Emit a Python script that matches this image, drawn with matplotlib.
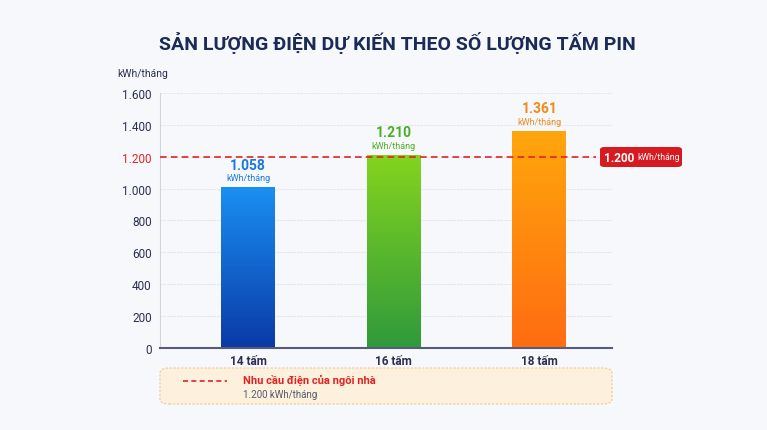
import numpy as np
import matplotlib.pyplot as plt
from matplotlib.colors import LinearSegmentedColormap
from matplotlib.patches import FancyBboxPatch

plt.rcParams['font.family'] = ['Roboto', 'DejaVu Sans']

# Data
categories = ['14 tấm', '16 tấm', '18 tấm']
values = [1058, 1210, 1361]          # printed labels
bar_heights = [1005, 1210, 1361]     # heights as drawn in the picture
value_labels = ['1.058', '1.210', '1.361']
demand = 1200
demand_label = '1.200'
yticks = [0, 200, 400, 600, 800, 1000, 1200, 1400, 1600]
ytick_labels = ['0', '200', '400', '600', '800', '1.000', '1.200', '1.400', '1.600']

# (top colour, bottom colour, label colour)
bar_styles = [('#1a8ff2', '#0a3aa6', '#1a78e0'),
              ('#84d41e', '#2f9a3b', '#4cae25'),
              ('#ffa60c', '#ff6c12', '#f08a1a')]

bg = '#f6f8fc'
fig = plt.figure(figsize=(7.67, 4.31), dpi=100, facecolor=bg)
ax = fig.add_axes([0.2086, 0.1903, 0.5894, 0.5916], facecolor=bg)

x = np.arange(len(categories))
width = 0.37
for xi, h, (top, bot, lc), lab in zip(x, bar_heights, bar_styles, value_labels):
    cmap = LinearSegmentedColormap.from_list('g', [bot, top])
    grad = np.linspace(0, 1, 256).reshape(-1, 1)
    ax.imshow(grad, cmap=cmap, origin='lower', aspect='auto',
              extent=[xi - width / 2, xi + width / 2, 0, h], zorder=3)
    ax.text(xi, h + 145, lab, ha='center', va='center', fontsize=10,
            fontweight='bold', color=lc, zorder=5)
    ax.text(xi, h + 62, 'kWh/tháng', ha='center', va='center', fontsize=6.5,
            color=lc, zorder=5)

ax.set_xlim(-0.605, 2.5)
ax.set_ylim(0, 1600)
ax.set_yticks(yticks)
ax.set_yticklabels(ytick_labels)
ax.set_xticks(x)
ax.set_xticklabels(categories, fontweight='bold')
ax.tick_params(axis='y', length=0, labelsize=8.5, labelcolor='#2b3050', pad=6)
ax.tick_params(axis='x', length=0, labelsize=8.5, labelcolor='#2b3050', pad=4)
ax.get_yticklabels()[yticks.index(demand)].set_color('#e02424')
ax.grid(axis='y', color='#e3e6ee', linewidth=0.8, linestyle=(0, (2, 1)), zorder=0)
for s in ['top', 'right']:
    ax.spines[s].set_visible(False)
ax.spines['left'].set_color('#d0d4de')
ax.spines['left'].set_linewidth(0.8)
ax.spines['bottom'].set_color('#565c78')
ax.spines['bottom'].set_linewidth(1.5)
ax.spines['bottom'].set_zorder(6)

# Demand line
ax.axhline(demand, xmin=0, xmax=0.965, color='#e02424', linestyle=(0, (4, 2.5)),
           linewidth=1.2, zorder=4)

# Red tag at the right of the demand line
tag = FancyBboxPatch((600 / 767, 1 - 168 / 431), 82 / 767, 20 / 431,
                     boxstyle='round,pad=0,rounding_size=0.006',
                     transform=fig.transFigure, fc='#d71920', ec='none')
fig.patches.append(tag)
fig.text(604 / 767, 1 - 158 / 431, demand_label, ha='left', va='center',
         fontsize=8.5, fontweight='bold', color='white')
fig.text(637 / 767, 1 - 158 / 431, 'kWh/tháng', ha='left', va='center',
         fontsize=6.2, color='white')

# Title and unit
fig.text(0.518, 1 - 43 / 431, 'SẢN LƯỢNG ĐIỆN DỰ KIẾN THEO SỐ LƯỢNG TẤM PIN',
         ha='center', va='center', fontsize=14, fontweight='bold', color='#1b2a56')
fig.text(117 / 767, 1 - 74 / 431, 'kWh/tháng', ha='left', va='center',
         fontsize=7.5, color='#2b3050')

# Legend box
leg = FancyBboxPatch((160 / 767, 1 - 405 / 431), 452 / 767, 36 / 431,
                     boxstyle='round,pad=0,rounding_size=0.012',
                     transform=fig.transFigure, fc='#fdf0dc', ec='#f3c98c',
                     linestyle=(0, (2, 1.5)), linewidth=0.8)
fig.patches.append(leg)
fig.add_artist(plt.Line2D([183 / 767, 227 / 767], [1 - 382 / 431] * 2,
                          color='#e02424', linestyle=(0, (3, 2)), linewidth=1.2,
                          transform=fig.transFigure))
fig.text(243 / 767, 1 - 380 / 431, 'Nhu cầu điện của ngôi nhà', ha='left',
         va='center', fontsize=8, fontweight='bold', color='#e02424')
fig.text(243 / 767, 1 - 395 / 431, demand_label + ' kWh/tháng', ha='left',
         va='center', fontsize=7, color='#555a6e')

fig.savefig('out.png', dpi=100, facecolor=bg)
